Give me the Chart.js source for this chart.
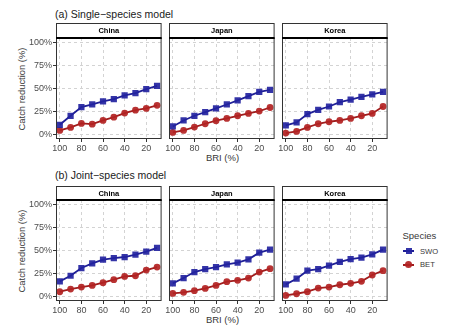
<!DOCTYPE html>
<html>
<head>
<meta charset="utf-8">
<script src="https://cdn.jsdelivr.net/npm/chart.js@4.4.0/dist/chart.umd.min.js"></script>
<style>
  body { margin: 0; background: #fff; }
  #wrap { position: relative; width: 450px; height: 336px; overflow: hidden; font-family: "Liberation Sans", Arial, sans-serif; }
  #wrap canvas { position: absolute; }
  .txt { position: absolute; white-space: nowrap; line-height: 1; color: #1a1a1a; font-weight: 400; }
  .axt { color: #383838; }
  .mid { transform: translate(-50%, -50%); }
  .vmid { transform: translateY(-50%); }
  .ytitle { transform: translate(-50%, -50%) rotate(-90deg); }
  .key { position: absolute; }
</style>
</head>
<body>
<div id="wrap">
  <div class="txt vmid" style="left:55px; top:13.5px; font-size:10.5px;">(a) Single&#8722;species model</div>
  <div class="txt vmid" style="left:55px; top:175px; font-size:10.5px;">(b) Joint&#8722;species model</div>

  <div class="txt axt ytitle" style="left:22px; top:88.5px; font-size:9.4px;">Catch reduction (%)</div>
  <div class="txt axt ytitle" style="left:22px; top:250.5px; font-size:9.4px;">Catch reduction (%)</div>

  <div class="txt axt mid" style="left:222.5px; top:157.5px; font-size:9.5px;">BRI (%)</div>
  <div class="txt axt mid" style="left:222.5px; top:320px; font-size:9.5px;">BRI (%)</div>

  <div class="txt axt vmid" style="left:402.5px; top:236px; font-size:9.5px;">Species</div>
  <div class="key" style="left:403px; top:250px; width:11px; height:2px; background:#1f1f96;"></div>
  <div class="key" style="left:405.5px; top:248px; width:6px; height:6px; background:rgba(35,35,160,0.92);"></div>
  <div class="txt axt vmid" style="left:420px; top:251.5px; font-size:7.6px;">SWO</div>
  <div class="key" style="left:403px; top:263.5px; width:11px; height:2px; background:#a01c1c;"></div>
  <div class="key" style="left:405px; top:261px; width:7px; height:7px; border-radius:50%; background:rgba(178,34,34,0.92);"></div>
  <div class="txt axt vmid" style="left:420px; top:264.5px; font-size:7.6px;">BET</div>
</div>
<script>
// BRI levels on the x axis (plotted high to low)
const bri = [100, 90, 80, 70, 60, 50, 40, 30, 20, 10];
const countries = ['China', 'Japan', 'Korea'];
const xTicks = [100, 80, 60, 40, 20];
const yTicks = [0, 25, 50, 75, 100];

// (a) single-species model, catch reduction (%)
const singleSwoChina = [10.5, 20.3, 29.7, 32.6, 35.9, 38.4, 42.4, 44.9, 49.3, 52.8];
const singleSwoJapan = [8.7, 15.2, 20.3, 24.3, 28.3, 32.6, 37.0, 41.7, 46.4, 48.6];
const singleSwoKorea = [9.8, 13.0, 22.1, 26.8, 30.4, 35.1, 38.0, 40.9, 43.5, 46.4];
const singleBetChina = [4.3, 7.6, 12.0, 11.2, 15.2, 18.8, 23.2, 26.4, 28.3, 31.7];
const singleBetJapan = [2.2, 4.3, 8.0, 11.6, 14.9, 17.4, 20.3, 22.8, 25.4, 29.3];
const singleBetKorea = [1.4, 3.3, 7.6, 11.6, 13.8, 15.2, 17.4, 20.3, 22.8, 30.4];

// (b) joint-species model, catch reduction (%)
const jointSwoChina = [16.4, 22.5, 30.9, 36.0, 40.0, 41.8, 42.9, 45.5, 48.7, 52.9];
const jointSwoJapan = [14.2, 20.0, 26.5, 29.8, 32.0, 34.9, 36.7, 40.4, 47.6, 50.9];
const jointSwoKorea = [13.1, 19.3, 28.0, 29.8, 33.5, 37.5, 40.7, 42.2, 45.8, 50.9];
const jointBetChina = [5.1, 8.0, 10.2, 12.0, 14.9, 18.2, 21.8, 22.5, 28.7, 32.0];
const jointBetJapan = [3.3, 4.4, 6.2, 8.7, 12.0, 16.0, 17.5, 20.0, 26.5, 30.2];
const jointBetKorea = [1.1, 2.9, 5.1, 9.1, 10.2, 12.7, 14.2, 16.4, 23.3, 28.0];

const SWO_LINE = '#1f1f96';
const SWO_PT = 'rgba(35,35,160,0.92)';
const BET_LINE = '#a01c1c';
const BET_PT = 'rgba(178,34,34,0.92)';
const GRID = '#d3d3d3';
const FRAME = '#333333';
const TICK_TXT = '#4d4d4d';
const FONT = "'Liberation Sans', Arial, sans-serif";

// panel geometry
const AXIS_W = 30;
const XAXIS_H = 22;
const PANEL_W = 107;
const colLefts = [56, 169, 282];
const rows = [
  {strip: 23, plot: 38, bottom: 139},
  {strip: 186, plot: 200, bottom: 301}
];

// facet strip on top + frame around the plot area
const stripPlugin = {
  id: 'strip',
  afterDraw(chart, args, opts) {
    const {ctx, chartArea: a} = chart;
    ctx.save();
    ctx.fillStyle = '#fff';
    ctx.fillRect(a.left, 0, a.width, a.top);
    ctx.strokeStyle = FRAME;
    ctx.lineWidth = 1;
    ctx.strokeRect(a.left + 0.5, 0.5, a.width - 1, a.top);
    ctx.strokeRect(a.left + 0.5, a.top + 0.5, a.width - 1, a.height - 1);
    ctx.fillStyle = '#000';
    ctx.fillRect(a.left, a.top - 1, a.width, 2);
    ctx.font = 'bold 7.5px ' + FONT;
    ctx.textAlign = 'center';
    ctx.textBaseline = 'middle';
    ctx.fillText(opts.text, a.left + a.width / 2, a.top / 2 + 0.5);
    ctx.restore();
  }
};

function makePanel(rowIdx, colIdx, swoVals, betVals) {
  const row = rows[rowIdx];
  const first = colIdx === 0;
  const cv = document.createElement('canvas');
  cv.width = AXIS_W + PANEL_W + 3;
  cv.height = row.bottom - row.strip + XAXIS_H;
  cv.style.left = (colLefts[colIdx] - AXIS_W) + 'px';
  cv.style.top = row.strip + 'px';
  document.getElementById('wrap').appendChild(cv);

  new Chart(cv, {
    type: 'line',
    data: {
      datasets: [
        {
          label: 'SWO',
          data: bri.map((x, i) => ({x: x, y: swoVals[i]})),
          borderColor: SWO_LINE,
          borderWidth: 1.8,
          backgroundColor: SWO_PT,
          pointStyle: 'rect',
          pointRadius: 4.4,
          pointBorderWidth: 0,
          pointBackgroundColor: SWO_PT
        },
        {
          label: 'BET',
          data: bri.map((x, i) => ({x: x, y: betVals[i]})),
          borderColor: BET_LINE,
          borderWidth: 1.8,
          backgroundColor: BET_PT,
          pointStyle: 'circle',
          pointRadius: 3.4,
          pointBorderWidth: 0,
          pointBackgroundColor: BET_PT
        }
      ]
    },
    options: {
      responsive: false,
      animation: false,
      events: [],
      layout: {padding: {top: row.plot - row.strip, right: 3, left: 0, bottom: 0}},
      plugins: {
        legend: {display: false},
        tooltip: {enabled: false},
        strip: {text: countries[colIdx]}
      },
      scales: {
        x: {
          type: 'linear',
          reverse: true,
          min: 5.8,
          max: 103.5,
          afterBuildTicks: s => { s.ticks = xTicks.map(v => ({value: v})); },
          afterFit: s => { s.height = XAXIS_H; },
          grid: {color: GRID, lineWidth: 1, tickLength: 3, tickColor: FRAME, tickWidth: 1, tickBorderDash: []},
          border: {display: false, dash: [3, 3]},
          ticks: {font: {family: FONT, size: 9}, color: TICK_TXT, padding: 1, maxRotation: 0, autoSkip: false}
        },
        y: {
          min: -5,
          max: 105,
          afterBuildTicks: s => { s.ticks = yTicks.map(v => ({value: v})); },
          afterFit: s => { s.width = AXIS_W; },
          grid: {color: GRID, lineWidth: 1, drawTicks: first, tickLength: 3, tickColor: FRAME, tickWidth: 1, tickBorderDash: []},
          border: {display: false, dash: [3, 3]},
          ticks: {display: first, font: {family: FONT, size: 9}, color: TICK_TXT, padding: 1, callback: v => v + '%'}
        }
      }
    },
    plugins: [stripPlugin]
  });
}

makePanel(0, 0, singleSwoChina, singleBetChina);
makePanel(0, 1, singleSwoJapan, singleBetJapan);
makePanel(0, 2, singleSwoKorea, singleBetKorea);
makePanel(1, 0, jointSwoChina, jointBetChina);
makePanel(1, 1, jointSwoJapan, jointBetJapan);
makePanel(1, 2, jointSwoKorea, jointBetKorea);
</script>
</body>
</html>
